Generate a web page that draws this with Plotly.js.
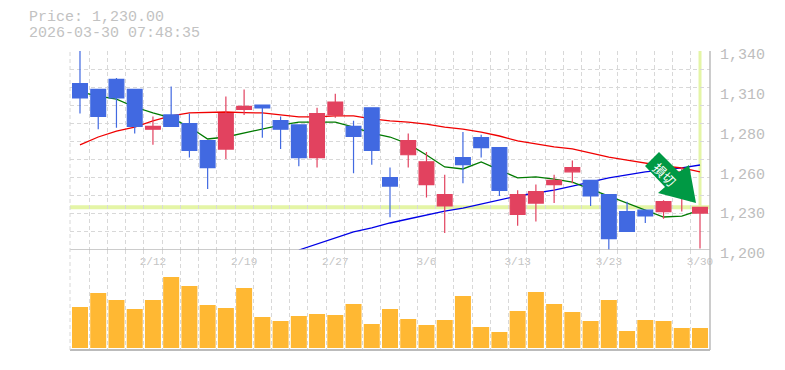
<!DOCTYPE html>
<html>
<head>
<meta charset="utf-8">
<script src="https://cdn.plot.ly/plotly-3.0.1.min.js"></script>
<style>html,body{margin:0;padding:0;background:#fff}#chart{width:785px;height:370px}</style>
</head>
<body>
<div id="chart"></div>
<script>
// Values. Index = trading-session position.
var opens  = [1317,1313,1320,1313,1285,1295,1289,1277,1271,1299,1302,1291,1288,1265,1295,1287,1300,1251,1267,1246,1231,1265,1279,1272,1225,1233,1246,1255,1249,1239,1227,1228,1227,1249,1226];
var highs  = [1340,1313,1321,1313,1294,1315,1296,1277,1308,1313,1302,1294,1288,1300,1310,1291,1300,1258,1282,1269,1253,1283,1281,1272,1242,1246,1253,1263,1249,1239,1234,1228,1235,1258,1230];
var lows   = [1296,1285,1286,1282,1274,1287,1265,1243,1264,1295,1279,1271,1259,1258,1293,1254,1260,1223,1258,1237,1212,1247,1265,1238,1217,1220,1233,1247,1231,1200,1213,1219,1222,1227,1201];
var closes = [1307,1294,1307,1287,1287,1287,1270,1258,1296,1301,1300,1285,1265,1296,1304,1280,1270,1245,1277,1262,1239,1260,1272,1242,1239,1241,1249,1258,1238,1208,1213,1224,1234,1255,1230];
var ma5  = [1311.2,1308.3,1306.2,1300.6,1296.4,1292.9,1286.5,1278.1,1279.5,1282.3,1285.1,1287.9,1290,1290,1290,1286.5,1282.3,1279.5,1274.6,1266.8,1258.4,1257,1261.9,1256.3,1250.7,1251.4,1249.9,1247.8,1242.9,1238,1233.1,1228.1,1223.2,1223.9,1228.1];
var ma25 = [1273.9,1279.5,1283.7,1286.5,1290.8,1294.3,1296.4,1296.7,1297.1,1296.7,1296.4,1295,1293.6,1293.6,1294.3,1294.3,1292.2,1290.8,1290,1288.6,1286.5,1285.1,1283,1280.2,1276.7,1274.6,1272.5,1271.1,1268.2,1265.4,1263.3,1261.2,1259.1,1257.7,1254.9];
var ma75 = [null,null,null,null,null,null,null,null,null,null,null,null,1200,1204.2,1208.4,1212.7,1215.5,1219,1221.8,1224.6,1227.4,1229.5,1232.4,1235.2,1238,1240.1,1242.2,1245,1247.8,1250.7,1252.8,1254.9,1256.3,1257.7,1259.8];
var volumes = [410,550,480,390,480,710,620,430,400,600,310,270,320,340,330,440,240,390,290,230,280,520,210,160,370,560,440,360,270,480,170,280,270,200,200];
var dateTickIdx = [4,9,14,19,24,29,34];
var dateTickText = ['2/12','2/19','2/27','3/6','3/13','3/23','3/30'];
var priceTickVals = [1340,1312,1284,1256,1228,1200];
var priceTickText = ['1,340','1,310','1,280','1,260','1,230','1,200'];
var lastPrice = 1230;
var headerLines = ['Price: 1,230.00','2026-03-30 07:48:35'];

var idx = opens.map(function(_, i){ return i; });
var mono = '"Liberation Mono", "DejaVu Sans Mono", monospace';
var RED = '#e2425f', BLUE = '#4169e1', GRID = '#d8d8d8', AXIS = '#bbbbbb', HILITE = '#e4f5a6';
var xRange = [-0.548, 34.548];
var gridDash = '4px,3px';

var traces = [
  {type:'scatter', mode:'lines', x:idx, y:ma75, xaxis:'x', yaxis:'y', line:{color:'#0000e6', width:1.3}, hoverinfo:'skip', showlegend:false},
  {type:'scatter', mode:'lines', x:idx, y:ma25, xaxis:'x', yaxis:'y', line:{color:'#f00000', width:1.3}, hoverinfo:'skip', showlegend:false},
  {type:'scatter', mode:'lines', x:idx, y:ma5,  xaxis:'x', yaxis:'y', line:{color:'#007a00', width:1.3}, hoverinfo:'skip', showlegend:false},
  {type:'candlestick', x:idx, open:opens, high:highs, low:lows, close:closes, xaxis:'x', yaxis:'y3', whiskerwidth:0,
   increasing:{line:{color:RED, width:1.2}, fillcolor:RED},
   decreasing:{line:{color:BLUE, width:1.2}, fillcolor:BLUE}, hoverinfo:'skip', showlegend:false},
  {type:'bar', x:idx, y:volumes, xaxis:'x2', yaxis:'y2', width:0.877, marker:{color:'#ffb833', line:{width:0}}, hoverinfo:'skip', showlegend:false}
];

var layout = {
  width:785, height:370, paper_bgcolor:'#fff', plot_bgcolor:'#fff',
  margin:{l:70, r:75, t:51, b:20, pad:0}, showlegend:false, boxgap:0.19, boxgroupgap:0,
  xaxis:{anchor:'y', domain:[0,1], range:xRange, rangeslider:{visible:false}, tickmode:'array', tickvals:dateTickIdx, ticktext:dateTickText,
    showgrid:false, zeroline:false, ticks:'', showline:false, ticklabelstandoff:3,
    tickfont:{family:mono, size:11, color:'#c4c4c4'},
    minor:{showgrid:true, tick0:0.5, dtick:1, gridcolor:GRID, griddash:gridDash, gridwidth:1, ticks:''}},
  xaxis2:{anchor:'y2', domain:[0,1], matches:'x', range:xRange, showticklabels:false, showgrid:false, zeroline:false, ticks:'', showline:false,
    minor:{showgrid:true, tick0:0.5, dtick:1, gridcolor:GRID, griddash:gridDash, gridwidth:1, ticks:''}},
  yaxis:{domain:[100/299,1], range:[1200,1340], side:'right', tickmode:'array', tickvals:priceTickVals, ticktext:priceTickText,
    showgrid:false, zeroline:false, ticks:'', showline:false, ticklabelshift:3, ticklabelstandoff:9,
    tickfont:{family:mono, size:15, color:'#bdbdbd'},
    minor:{showgrid:true, tick0:1200, dtick:140/11, gridcolor:GRID, griddash:gridDash, gridwidth:1, ticks:''}},
  yaxis2:{domain:[0,100/299], range:[-20,980], showticklabels:false, showgrid:false, zeroline:false, ticks:'', showline:false},
  yaxis3:{overlaying:'y', side:'right', range:[1200,1340], showticklabels:false, showgrid:false, zeroline:false, ticks:'', showline:false},
  shapes:[
    {type:'line', layer:'below', xref:'paper', yref:'y', x0:0, x1:1, y0:lastPrice, y1:lastPrice, line:{color:HILITE, width:4}},
    {type:'line', layer:'below', xref:'x', yref:'y', x0:34, x1:34, y0:lastPrice, y1:1340, line:{color:HILITE, width:3}},
    {type:'line', xref:'paper', yref:'y', x0:0, x1:1, y0:1200, y1:1200, line:{color:AXIS, width:1.5}},
    {type:'line', xref:'paper', yref:'paper', x0:0, x1:1, y0:0, y1:0, line:{color:AXIS, width:2}},
    {type:'line', xref:'paper', yref:'paper', x0:1, x1:1, y0:0, y1:1, line:{color:AXIS, width:1.5}},
    {type:'line', xref:'paper', yref:'paper', x0:0, x1:0, y0:0, y1:1, line:{color:GRID, width:1, dash:gridDash}},
    {type:'path', xref:'paper', yref:'paper', xsizemode:'pixel', ysizemode:'pixel', xanchor:0, yanchor:1,
     path:'M 589 -101 L 609 -121 L 619 -114 L 626 -152 L 588 -142 L 595 -136 L 575 -115 Z',
     fillcolor:'#009944', line:{width:0}}
  ],
  annotations:[
    {xref:'paper', yref:'paper', x:-42/640, y:1+(51-8)/299, xanchor:'left', yanchor:'top', align:'left', showarrow:false, borderpad:0,
     text:headerLines[0], font:{family:mono, size:15, color:'#c2c2c2'}},
    {xref:'paper', yref:'paper', x:-42/640, y:1+(51-24)/299, xanchor:'left', yanchor:'top', align:'left', showarrow:false, borderpad:0,
     text:headerLines[1], font:{family:mono, size:15, color:'#c2c2c2'}},
    {xref:'paper', yref:'paper', x:(665-70)/640, y:1-(174-51)/299, xanchor:'center', yanchor:'middle', showarrow:false, textangle:45,
     text:'損切', font:{family:'"Noto Sans CJK JP"', size:13, color:'#ffffff'}}
  ]
};
Plotly.newPlot('chart', traces, layout, {staticPlot:true, displayModeBar:false});
</script>
</body>
</html>
